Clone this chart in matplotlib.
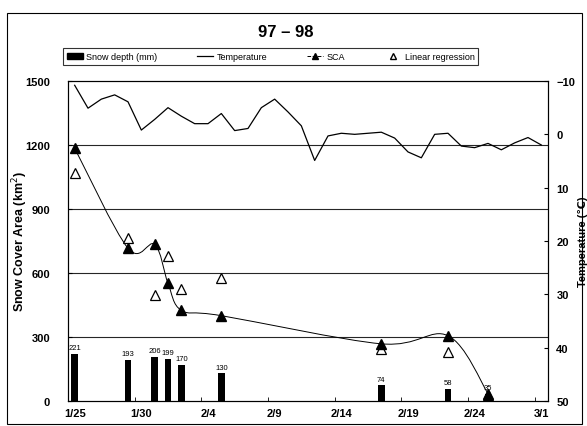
import matplotlib
matplotlib.use("Agg")
import matplotlib.pyplot as plt
import numpy as np
from matplotlib.path import Path
from matplotlib.patches import PathPatch, Patch, Rectangle
from matplotlib.lines import Line2D

plt.rcParams['font.family'] = ['Liberation Sans', 'DejaVu Sans']

# days counted from 1/25
tick_days = [0, 5, 10, 15, 20, 25, 30, 35]
tick_labels = ['1/25', '1/30', '2/4', '2/9', '2/14', '2/19', '2/24', '3/1']

# snow depth (mm)
depth_days = [0, 4, 6, 7, 8, 11, 23, 28, 31]
depth_mm = [221, 193, 206, 199, 170, 130, 74, 58, 35]

# snow cover area (km2)
sca_days = [0, 4, 6, 7, 8, 11, 23, 28, 31]
sca = [1185, 716, 734, 552, 425, 400, 268, 306, 35]
reg = [1070, 764, 497, 678, 525, 575, 244, 228, 30]

# daily temperature
temp = [-9.2, -4.9, -6.6, -7.4, -6.1, -0.8, -2.8, -5.0, -3.4, -2.0,
        -2.0, -3.9, -0.7, -1.1, -5.0, -6.6, -4.2, -1.6, 4.9, 0.3,
        -0.2, 0.0, -0.2, -0.4, 0.7, 3.3, 4.4, 0.0, -0.2, 2.2,
        2.5, 1.7, 2.9, 1.6, 0.6, 2.0]
temp_days = np.arange(len(temp))

fig = plt.figure(figsize=(5.87, 4.27), dpi=100)
ax = fig.add_axes([68 / 587, 25 / 427, 480 / 587, 320 / 427])

# outer frame
fig.patches.append(Rectangle((7 / 587, 2 / 427), 575 / 587, 411 / 427,
                             transform=fig.transFigure, fill=False,
                             edgecolor='black', linewidth=0.8))

for g in [300, 600, 900, 1200]:
    ax.axhline(g, color='0.15', linewidth=0.8, zorder=1)

ax.bar(depth_days, depth_mm, width=0.5, color='black', zorder=2)
for d, v in zip(depth_days, depth_mm):
    ax.text(d, v + 12, str(v), ha='center', va='bottom', fontsize=5.5)

# smoothed SCA curve (bezier through the observed points)
px = np.array(sca_days, dtype=float)
py = np.array(sca, dtype=float)
verts = [(px[0], py[0])]
codes = [Path.MOVETO]
n = len(px)
for i in range(n - 1):
    p0 = np.array([px[max(i - 1, 0)], py[max(i - 1, 0)]])
    p1 = np.array([px[i], py[i]])
    p2 = np.array([px[i + 1], py[i + 1]])
    p3 = np.array([px[min(i + 2, n - 1)], py[min(i + 2, n - 1)]])
    c1 = p1 + (p2 - p0) / 6
    c2 = p2 - (p3 - p1) / 6
    verts += [tuple(c1), tuple(c2), tuple(p2)]
    codes += [Path.CURVE4] * 3
ax.add_patch(PathPatch(Path(verts, codes), fill=False, edgecolor='black',
                       linewidth=0.7, zorder=3))

ax.plot(sca_days, reg, linestyle='none', marker='^', markersize=7,
        markerfacecolor='white', markeredgecolor='black', markeredgewidth=0.9, zorder=4)
ax.plot(sca_days, sca, linestyle='none', marker='^', markersize=7,
        color='black', zorder=5)

ax.set_xlim(-0.5, 35.5)
ax.set_ylim(0, 1500)
ax.set_yticks([0, 300, 600, 900, 1200, 1500])
ax.set_xticks(tick_days)
ax.set_xticklabels(tick_labels, fontsize=8, fontweight='bold')
ax.set_xticks([4.5, 9.5, 14.5, 19.5, 24.5, 29.5, 34.5], minor=True)
ax.tick_params(axis='x', which='major', length=0, pad=5)
ax.tick_params(axis='x', which='minor', direction='in', length=3)
ax.tick_params(axis='y', direction='in', length=3, labelsize=8, pad=13)
for t in ax.get_yticklabels():
    t.set_fontweight('bold')
ax.set_ylabel('Snow Cover Area (km$^2$)', fontsize=9, fontweight='bold')
ax.yaxis.set_label_coords(-0.08, 0.5)

ax2 = ax.twinx()
ax2.plot(temp_days, temp, color='black', linewidth=0.9)
ax2.set_ylim(50, -10)
ax2.set_yticks([-10, 0, 10, 20, 30, 40, 50])
ax2.tick_params(axis='y', direction='in', length=3, labelsize=8, pad=6)
for t in ax2.get_yticklabels():
    t.set_fontweight('bold')
ax2.set_ylabel('Temperature (\u2103)', fontsize=8, fontweight='bold')
ax2.yaxis.set_label_coords(1.062, 0.5)

fig.text(0.486, 0.923, '97 \u2013 98', ha='center', va='center',
         fontsize=12, fontweight='bold')

handles = [
    Patch(facecolor='black', edgecolor='black'),
    Line2D([], [], color='black', linewidth=0.9),
    Line2D([], [], color='black', linewidth=0.7, linestyle='--', marker='^',
           markersize=5),
    Line2D([], [], linestyle='none', marker='^', markersize=5,
           markerfacecolor='white', markeredgecolor='black'),
]
labels = ['Snow depth (mm)', 'Temperature', 'SCA', 'Linear regression']
leg = fig.legend(handles, labels, loc='center', ncol=4,
                 bbox_to_anchor=(63 / 587, 1 - 70 / 427, 415 / 587, 25 / 427),
                 mode='expand', fontsize=6.5, frameon=True, fancybox=False,
                 handlelength=1.8, handletextpad=0.4, borderaxespad=0)
leg.get_frame().set_edgecolor('black')
leg.get_frame().set_linewidth(0.8)

fig.savefig('out.png', dpi=100)
